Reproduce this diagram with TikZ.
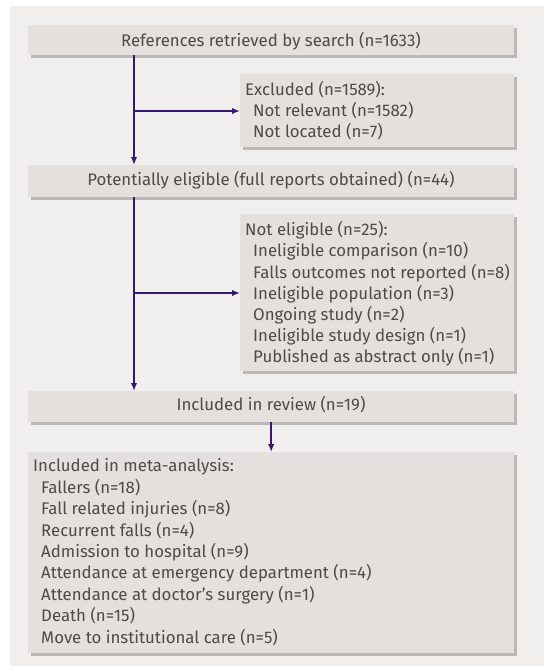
\documentclass[tikz,border=0pt]{standalone}
\usepackage{fontspec}
\setmainfont{Fira Sans}
\usetikzlibrary{arrows.meta}
\definecolor{panel}{HTML}{F0EFED}
\definecolor{boxfill}{HTML}{E4E0DD}
\definecolor{shadowc}{HTML}{BDB8B5}
\definecolor{txt}{HTML}{4F4A48}
\definecolor{arr}{HTML}{3A1670}
\newcommand{\ind}{\hspace*{8pt}}
\tikzset{
  frame/.style={draw=none, fill=none, inner sep=0pt, anchor=north west},
  label/.style={inner sep=0pt, text=txt, font=\fontsize{16.8}{21.2}\selectfont},
  conn/.style={draw=arr, line width=1.7pt, -{Latex[length=8pt,width=6.5pt]}}
}
\begin{document}
\begin{tikzpicture}[x=1pt,y=-1pt]
\useasboundingbox (0,0) rectangle (544,667);
\fill[panel] (10,6) rectangle (544,666);
% shadows and fills
\foreach \a/\b/\c/\d in {28/25/514/55, 240/74/514/147, 28/165/514/197, 240/214/514/371, 28/391/514/422, 28/452/514/653}{
  \fill[shadowc] (\a+3,\b+3) rectangle (\c+3,\d+3);
  \fill[boxfill] (\a,\b) rectangle (\c,\d);
}
\node[frame, minimum width=486pt, minimum height=30pt] (b1) at (28,25) {};
\node[frame, minimum width=274pt, minimum height=73pt] (ex) at (240,74) {};
\node[frame, minimum width=486pt, minimum height=32pt] (b2) at (28,165) {};
\node[frame, minimum width=274pt, minimum height=157pt] (ne) at (240,214) {};
\node[frame, minimum width=486pt, minimum height=31pt] (b3) at (28,391) {};
\node[frame, minimum width=486pt, minimum height=201pt] (b4) at (28,452) {};
% texts
\node[label, anchor=base] (b1t) at (271,46) {References retrieved by search (n=1633)};
\node[label, anchor=base west] (ext) at (245,95)
  {\begin{tabular}[t]{@{}l@{}}Excluded (n=1589):\\\ind Not relevant (n=1582)\\\ind Not located (n=7)\end{tabular}};
\node[label, anchor=base] (b2t) at (271,185) {Potentially eligible (full reports obtained) (n=44)};
\node[label, anchor=base west] (net) at (245,235.7)
  {\begin{tabular}[t]{@{}l@{}}Not eligible (n=25):\\\ind Ineligible comparison (n=10)\\\ind Falls outcomes not reported (n=8)\\\ind Ineligible population (n=3)\\\ind Ongoing study (n=2)\\\ind Ineligible study design (n=1)\\\ind Published as abstract only (n=1)\end{tabular}};
\node[label, anchor=base] (b3t) at (271,410.7) {Included in review (n=19)};
\node[label, anchor=base west, font=\fontsize{16.8}{21.45}\selectfont] (b4t) at (33,471.7)
  {\begin{tabular}[t]{@{}l@{}}Included in meta-analysis:\\\ind Fallers (n=18)\\\ind Fall related injuries (n=8)\\\ind Recurrent falls (n=4)\\\ind Admission to hospital (n=9)\\\ind Attendance at emergency department (n=4)\\\ind Attendance at doctor’s surgery (n=1)\\\ind Death (n=15)\\\ind Move to institutional care (n=5)\end{tabular}};
% connectors
\coordinate (j1) at (134,111);
\coordinate (j2) at (134,293);
\draw[conn] (b1.south west -| j1) -- (b2.north west -| j1);
\draw[conn] (j1) -- (ex.west |- j1);
\draw[conn] (b2.south west -| j2) -- (b3.north west -| j2);
\draw[conn] (j2) -- (ne.west |- j2);
\draw[conn] (b3.south) -- (b4.north);
\end{tikzpicture}
\end{document}
